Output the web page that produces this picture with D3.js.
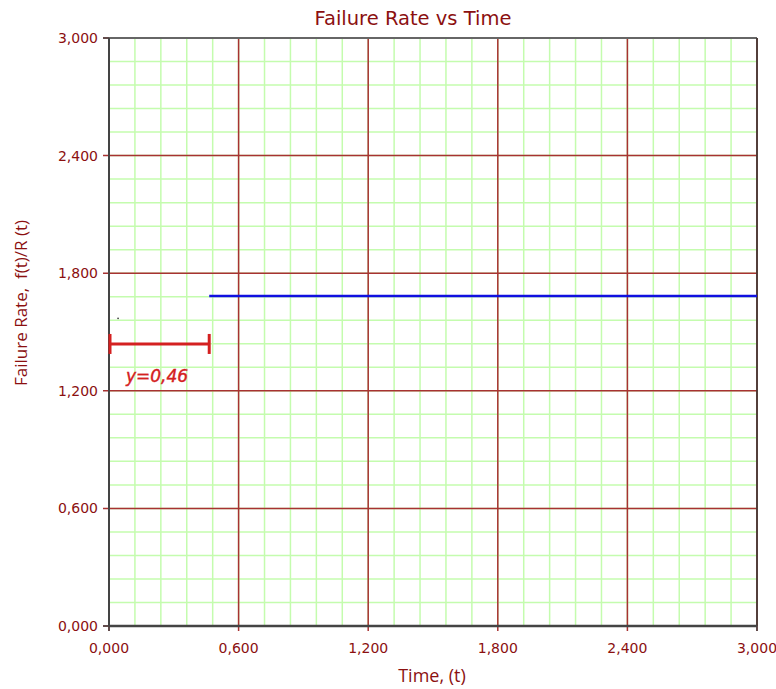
<!DOCTYPE html>
<meta charset="utf-8">
<head>
  <script src="https://d3js.org/d3.v7.min.js"></script>
</head>
<body style="margin:0;background:#fff">
<div id="chart"></div>
<script>
"use strict"

// dados
var ticksX = [0, 0.6, 1.2, 1.8, 2.4, 3.0];
var ticksY = [0, 0.6, 1.2, 1.8, 2.4, 3.0];
var linhaX = [0.464, 3.0];
var linhaY = [1.684, 1.684];
var marcaX = [0, 0.464];
var marcaY = 1.439;
var marcaTexto = "y=0,46";
var ponto = [0.042, 1.57];

var largura = 776, altura = 689;
var margin = {top: 38, right: 19, bottom: 63, left: 109},
    larguraVis = largura - margin.left - margin.right,
    alturaVis = altura - margin.top - margin.bottom;

var vermelho = "#8b1010";
var fmt = function(d) { return d3.format(".3f")(d).replace(".", ","); };

var svg = d3.select('#chart').append('svg')
    .attr('width', largura).attr('height', altura);

var g = svg.append('g')
    .attr('transform', 'translate(' + margin.left + ',' + margin.top + ')');

var x = d3.scaleLinear().domain([0, 3]).range([0, larguraVis]);
var y = d3.scaleLinear().domain([0, 3]).range([alturaVis, 0]);

// grade menor
var menores = d3.range(0, 26).map(function(i) { return i * 0.12; });
g.selectAll('.gx').data(menores).enter().append('line')
  .attr('x1', d => x(d)).attr('x2', d => x(d))
  .attr('y1', 0).attr('y2', alturaVis)
  .attr('stroke', '#c4fcae').attr('stroke-width', 1.5);
g.selectAll('.gy').data(menores).enter().append('line')
  .attr('y1', d => y(d)).attr('y2', d => y(d))
  .attr('x1', 0).attr('x2', larguraVis)
  .attr('stroke', '#c4fcae').attr('stroke-width', 1.5);

// grade maior
g.selectAll('.mx').data(ticksX).enter().append('line')
  .attr('x1', d => x(d)).attr('x2', d => x(d))
  .attr('y1', 0).attr('y2', alturaVis + 5)
  .attr('stroke', '#a83232').attr('stroke-width', 1.5);
g.selectAll('.my').data(ticksY).enter().append('line')
  .attr('y1', d => y(d)).attr('y2', d => y(d))
  .attr('x1', -6).attr('x2', larguraVis)
  .attr('stroke', '#a83232').attr('stroke-width', 1.5);

// bordas
g.append('line').attr('x1', 0).attr('x2', larguraVis).attr('y1', 0).attr('y2', 0)
  .attr('stroke', '#666').attr('stroke-width', 2);
g.append('line').attr('x1', larguraVis).attr('x2', larguraVis).attr('y1', 0).attr('y2', alturaVis)
  .attr('stroke', '#333').attr('stroke-width', 1.5);
g.append('line').attr('x1', 0).attr('x2', 0).attr('y1', 0).attr('y2', alturaVis)
  .attr('stroke', '#444').attr('stroke-width', 2);
g.append('line').attr('x1', 0).attr('x2', larguraVis).attr('y1', alturaVis).attr('y2', alturaVis)
  .attr('stroke', '#444').attr('stroke-width', 2.5);
g.append('line').attr('x1', -6).attr('x2', 0).attr('y1', 0).attr('y2', 0)
  .attr('stroke', '#444').attr('stroke-width', 1.5);
g.append('line').attr('x1', -6).attr('x2', 0).attr('y1', alturaVis).attr('y2', alturaVis)
  .attr('stroke', '#444').attr('stroke-width', 1.5);
g.append('line').attr('x1', 0).attr('x2', 0).attr('y1', alturaVis).attr('y2', alturaVis + 5)
  .attr('stroke', '#444').attr('stroke-width', 1.5);
g.append('line').attr('x1', larguraVis).attr('x2', larguraVis).attr('y1', alturaVis).attr('y2', alturaVis + 5)
  .attr('stroke', '#444').attr('stroke-width', 1.5);

// rotulos dos eixos
g.selectAll('.tx').data(ticksX).enter().append('text')
  .attr('x', d => x(d)).attr('y', alturaVis + 27)
  .attr('text-anchor', 'middle')
  .style('font', '14px "DejaVu Sans"').style('fill', vermelho)
  .text(fmt);
g.selectAll('.ty').data(ticksY).enter().append('text')
  .attr('x', -11).attr('y', d => y(d) + 5)
  .attr('text-anchor', 'end')
  .style('font', '14px "DejaVu Sans"').style('fill', vermelho)
  .text(fmt);

// linha azul
var linha = d3.line().x(d => x(d[0])).y(d => y(d[1]));
g.append('path')
  .datum(linhaX.map((d, i) => [d, linhaY[i]]))
  .attr('d', linha)
  .attr('stroke', '#1010e0').attr('stroke-width', 2.5).attr('fill', 'none');

// marcador
var corMarca = '#d42020';
g.append('line')
  .attr('x1', x(marcaX[0])).attr('x2', x(marcaX[1]))
  .attr('y1', y(marcaY)).attr('y2', y(marcaY))
  .attr('stroke', corMarca).attr('stroke-width', 3);
g.selectAll('.cap').data(marcaX).enter().append('line')
  .attr('x1', d => x(d) + (d === 0 ? 1 : 0)).attr('x2', d => x(d) + (d === 0 ? 1 : 0))
  .attr('y1', y(marcaY) - 10).attr('y2', y(marcaY) + 10)
  .attr('stroke', corMarca).attr('stroke-width', 3);
g.append('text')
  .attr('x', x(marcaX[0]) + 17).attr('y', y(marcaY) + 38)
  .style('font', 'italic 17px "DejaVu Sans"').style('fill', corMarca)
  .style('stroke', corMarca).style('stroke-width', 0.4)
  .text(marcaTexto);

g.append('circle')
  .attr('cx', x(ponto[0])).attr('cy', y(ponto[1])).attr('r', 0.9)
  .attr('fill', '#444');

// titulos
svg.append('text')
  .attr('x', 413).attr('y', 25)
  .attr('text-anchor', 'middle')
  .style('font', '19.5px "DejaVu Sans"').style('fill', vermelho)
  .text('Failure Rate vs Time');

svg.append('text')
  .attr('x', 432).attr('y', 682)
  .attr('text-anchor', 'middle')
  .style('font', '18px "Open Sans"').style('fill', vermelho)
  .text('Time, (t)');

svg.append('text')
  .attr('transform', 'translate(27,303) rotate(-90)')
  .attr('text-anchor', 'middle')
  .style('font', '17px "Open Sans"').style('fill', vermelho)
  .attr('xml:space', 'preserve')
  .text('Failure Rate,  f(t)/R (t)');
</script>
</body>
